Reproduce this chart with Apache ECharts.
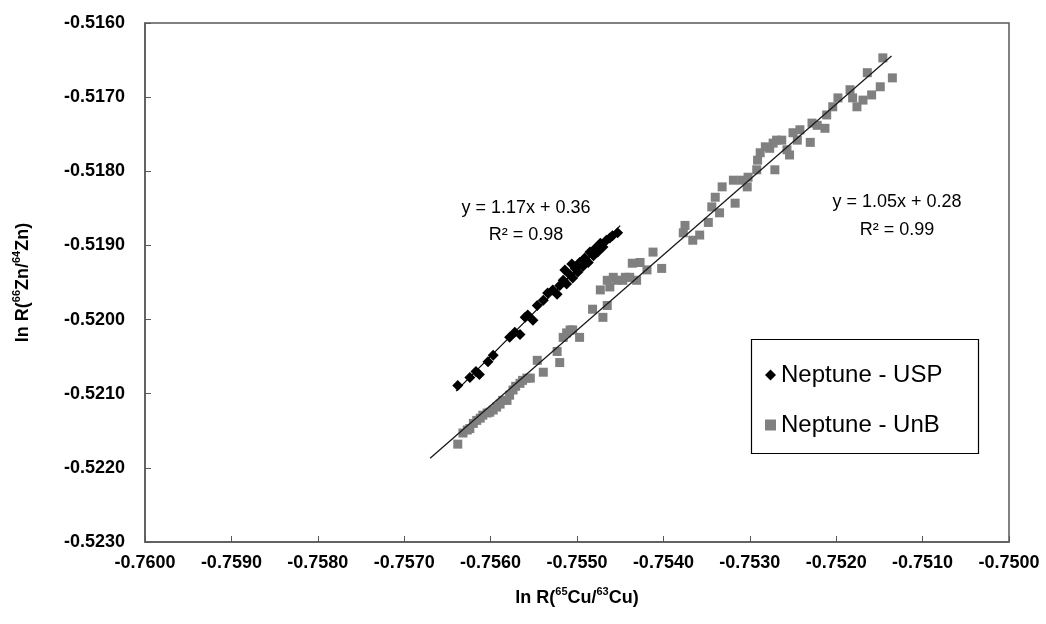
<!DOCTYPE html>
<html><head><meta charset="utf-8">
<script src="https://cdn.jsdelivr.net/npm/echarts@6/dist/echarts.min.js"></script>
<style>html,body{margin:0;padding:0;background:#fff}#c{width:1046px;height:624px}</style>
</head><body><div id="c"></div>
<script>
// ---- data ----
const seriesNames = ['Neptune - USP', 'Neptune - UnB'];
const uspX = [-0.75638,-0.75624,-0.75617,-0.75613,-0.75603,-0.75597,-0.75578,-0.75572,-0.75566,-0.75560,-0.75557,-0.75551,-0.75546,-0.75539,-0.75534,-0.75528,-0.75523,-0.75520,-0.75516,-0.75514,-0.75512,-0.75508,-0.75506,-0.75505,-0.75502,-0.75499,-0.75497,-0.75493,-0.75491,-0.75487,-0.75485,-0.75481,-0.75479,-0.75476,-0.75473,-0.75470,-0.75466,-0.75462,-0.75459,-0.75453];
const uspY = [-0.52089,-0.52078,-0.52070,-0.52074,-0.52057,-0.52048,-0.52024,-0.52017,-0.52020,-0.51997,-0.51994,-0.52001,-0.51981,-0.51974,-0.51964,-0.51960,-0.51966,-0.51954,-0.51947,-0.51933,-0.51952,-0.51940,-0.51925,-0.51944,-0.51931,-0.51936,-0.51923,-0.51928,-0.51917,-0.51923,-0.51909,-0.51914,-0.51904,-0.51909,-0.51897,-0.51902,-0.51893,-0.51890,-0.51887,-0.51883];
const unbX = [-0.75638,-0.75632,-0.75627,-0.75624,-0.75620,-0.75616,-0.75612,-0.75609,-0.75604,-0.75601,
  -0.75597,-0.75593,-0.75589,-0.75586,-0.75581,-0.75578,-0.75574,-0.75571,-0.75566,-0.75563,
  -0.75558,-0.75554,-0.75546,-0.75539,-0.75523,-0.75520,-0.75516,-0.75512,-0.75508,-0.75505,
  -0.75497,-0.75482,-0.75473,-0.75470,-0.75465,-0.75465,-0.75462,-0.75458,-0.75454,-0.75447,
  -0.75444,-0.75439,-0.75436,-0.75431,-0.75427,-0.75419,-0.75412,-0.75402,-0.75377,-0.75375,
  -0.75366,-0.75358,-0.75348,-0.75344,-0.75340,-0.75335,-0.75332,-0.75319,-0.75317,-0.75309,
  -0.75303,-0.75302,-0.75292,-0.75291,-0.75288,-0.75282,-0.75277,-0.75273,-0.75271,-0.75269,
  -0.75263,-0.75257,-0.75254,-0.75250,-0.75245,-0.75242,-0.75230,-0.75228,-0.75222,-0.75213,
  -0.75211,-0.75204,-0.75198,-0.75184,-0.75181,-0.75176,-0.75169,-0.75164,-0.75159,-0.75149,
  -0.75146,-0.75135];
const unbY = [-0.52168,-0.52153,-0.52149,-0.52147,-0.52140,-0.52136,-0.52133,-0.52129,-0.52126,-0.52125,
  -0.52122,-0.52118,-0.52114,-0.52109,-0.52109,-0.52102,-0.52095,-0.52090,-0.52086,-0.52082,
  -0.52079,-0.52079,-0.52055,-0.52071,-0.52043,-0.52058,-0.52024,-0.52018,-0.52014,-0.52014,
  -0.52024,-0.51986,-0.51960,-0.51997,-0.51981,-0.51947,-0.51956,-0.51943,-0.51947,-0.51947,
  -0.51943,-0.51943,-0.51924,-0.51947,-0.51923,-0.51933,-0.51909,-0.51931,-0.51883,-0.51873,
  -0.51893,-0.51886,-0.51869,-0.51848,-0.51835,-0.51856,-0.51821,-0.51812,-0.51843,-0.51812,
  -0.51821,-0.51808,-0.51798,-0.51785,-0.51775,-0.51767,-0.51769,-0.51762,-0.51798,-0.51758,
  -0.51758,-0.51771,-0.51778,-0.51748,-0.51758,-0.51744,-0.51761,-0.51735,-0.51738,-0.51742,
  -0.51724,-0.51713,-0.51701,-0.51690,-0.51701,-0.51713,-0.51704,-0.51667,-0.51697,-0.51686,
  -0.51647,-0.51674];
const xAxisMin = -0.7600, xAxisMax = -0.7500, xAxisStep = 0.001;
const yAxisMin = -0.5230, yAxisMax = -0.5160, yAxisStep = 0.001;
const uspTrendX = [-0.75640, -0.75450];
const unbTrendX = [-0.75670, -0.75136];
const uspEquation = ['y = 1.17x + 0.36', 'R² = 0.98'];
const unbEquation = ['y = 1.05x + 0.28', 'R² = 0.99'];

// ---- helpers ----
function fit(xs, ys) {
  const n = xs.length;
  let mx = 0, my = 0;
  for (let i = 0; i < n; i++) { mx += xs[i]; my += ys[i]; }
  mx /= n; my /= n;
  let sxy = 0, sxx = 0;
  for (let i = 0; i < n; i++) { sxy += (xs[i]-mx)*(ys[i]-my); sxx += (xs[i]-mx)*(xs[i]-mx); }
  const b = sxy / sxx;
  return { slope: b, intercept: my - b*mx };
}
function trend(xs, ys, range) {
  const f = fit(xs, ys);
  return range.map(x => [x, f.slope*x + f.intercept]);
}
const zip = (a, b) => a.map((v, i) => [v, b[i]]);

const FONT = '"Liberation Sans", Arial, sans-serif';
const chart = echarts.init(document.getElementById('c'), null, {renderer: 'canvas'});
const axisColor = '#595959';

chart.setOption({
  animation: false,
  backgroundColor: '#fff',
  grid: { left: 145, right: 37, top: 23, bottom: 82, show: true, borderColor: axisColor, borderWidth: 1.5, backgroundColor: 'transparent' },
  xAxis: {
    type: 'value', min: xAxisMin, max: xAxisMax, interval: xAxisStep,
    name: '{b|ln R(}{s|65}{b|Cu/}{s|63}{b|Cu)}',
    nameLocation: 'middle', nameGap: 44,
    nameTextStyle: { rich: {
      b: { fontFamily: FONT, fontWeight: 'bold', fontSize: 18, color: '#000', lineHeight: 24 },
      s: { fontFamily: FONT, fontWeight: 'bold', fontSize: 11, color: '#000', lineHeight: 24, verticalAlign: 'top', padding: [0,0,9,0] }
    }},
    axisLine: { lineStyle: { color: axisColor, width: 1.5 } },
    axisTick: { inside: true, length: 6, lineStyle: { color: axisColor, width: 1 } },
    splitLine: { show: false },
    axisLabel: { margin: 12, fontFamily: FONT, fontWeight: 'bold', fontSize: 18, color: '#000', formatter: v => v.toFixed(4) }
  },
  yAxis: {
    type: 'value', min: yAxisMin, max: yAxisMax, interval: yAxisStep,
    name: '{b|ln R(}{s|66}{b|Zn/}{s|64}{b|Zn)}',
    nameLocation: 'middle', nameGap: 110, nameRotate: 90,
    nameTextStyle: { rich: {
      b: { fontFamily: FONT, fontWeight: 'bold', fontSize: 18, color: '#000', lineHeight: 24 },
      s: { fontFamily: FONT, fontWeight: 'bold', fontSize: 11, color: '#000', lineHeight: 24, verticalAlign: 'top', padding: [0,0,9,0] }
    }},
    axisLine: { show: true, lineStyle: { color: axisColor, width: 1.5 } },
    axisTick: { show: true, inside: true, length: 6, lineStyle: { color: axisColor, width: 1 } },
    splitLine: { show: false },
    axisLabel: { margin: 20, fontFamily: FONT, fontWeight: 'bold', fontSize: 18, color: '#000', formatter: v => v.toFixed(4) }
  },
  legend: {
    left: 760, top: 357, orient: 'vertical',
    itemWidth: 11, itemHeight: 11, itemGap: 24,
    textStyle: { fontFamily: FONT, fontSize: 24, color: '#000', lineHeight: 26 },
    data: [
      { name: seriesNames[0], icon: 'diamond', itemStyle: { color: '#000' } },
      { name: seriesNames[1], icon: 'rect', itemStyle: { color: '#808080' } }
    ]
  },
  graphic: [
    { type: 'rect', left: 749, top: 337, shape: { width: 227, height: 114 }, style: { fill: 'none', stroke: '#000', lineWidth: 1.2 }, z: 10 },
    { type: 'text', x: 526, y: 208, style: { text: uspEquation[0], font: '18px ' + FONT, fill: '#000', align: 'center', verticalAlign: 'middle' } },
    { type: 'text', x: 526, y: 235, style: { text: uspEquation[1], font: '18px ' + FONT, fill: '#000', align: 'center', verticalAlign: 'middle' } },
    { type: 'text', x: 897, y: 202, style: { text: unbEquation[0], font: '18px ' + FONT, fill: '#000', align: 'center', verticalAlign: 'middle' } },
    { type: 'text', x: 897, y: 230, style: { text: unbEquation[1], font: '18px ' + FONT, fill: '#000', align: 'center', verticalAlign: 'middle' } }
  ],
  series: [
    { name: seriesNames[1], type: 'scatter', symbol: 'rect', symbolSize: 9, itemStyle: { color: '#808080', opacity: 1 }, data: zip(unbX, unbY), z: 2 },
    { name: seriesNames[0] + ' trend', type: 'line', data: trend(uspX, uspY, uspTrendX), symbol: 'none', silent: true, lineStyle: { color: '#000', width: 1.2 }, z: 3 },
    { name: seriesNames[0], type: 'scatter', symbol: 'diamond', symbolSize: 11, itemStyle: { color: '#000', opacity: 1 }, data: zip(uspX, uspY), z: 4 },
    { name: seriesNames[1] + ' trend', type: 'line', data: trend(unbX, unbY, unbTrendX), symbol: 'none', silent: true, lineStyle: { color: '#1a1a1a', width: 1.3 }, z: 5 }
  ]
});
</script>
</body></html>
